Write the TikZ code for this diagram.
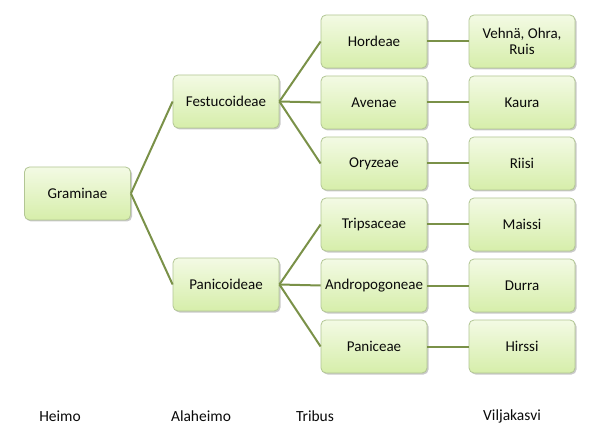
\documentclass[tikz,border=0pt]{standalone}
\usepackage{fontspec}
\setmainfont{Carlito}
\usetikzlibrary{shadows}
\definecolor{linegreen}{RGB}{122,145,72}
\definecolor{boxtop}{RGB}{243,250,228}
\definecolor{boxbot}{RGB}{214,238,170}
\definecolor{boxborder}{RGB}{178,198,148}
\definecolor{txt}{RGB}{10,10,10}
\tikzset{
  box/.style={draw=boxborder, line width=0.8pt, rounded corners=5pt,
    top color=boxtop, bottom color=boxbot,
    minimum width=106pt, minimum height=53pt, inner sep=1pt,
    align=center, text=txt, font=\fontsize{15}{16}\selectfont,
    drop shadow={shadow xshift=1.5pt, shadow yshift=-1.5pt, opacity=0.35, fill=black!60}},
  link/.style={draw=linegreen, line width=2pt},
  lab/.style={text=txt, font=\fontsize{15.5}{16}\selectfont}
}
\begin{document}
\begin{tikzpicture}[x=1pt,y=-1pt]
\useasboundingbox[fill=white] (0,0) rectangle (591,446);
\node[box] (gram) at (77.5,193.5) {Graminae};
\node[box] (fest) at (226,101.5) {Festucoideae};
\node[box] (pani) at (226,284.5) {Panicoideae};
\node[box] (hord) at (374,41.5) {Hordeae};
\node[box] (aven) at (374,102.5) {Avenae};
\node[box] (oryz) at (374,163.5) {Oryzeae};
\node[box] (trip) at (374,224.5) {Tripsaceae};
\node[box] (andr) at (374,285.5) {Andropogoneae};
\node[box] (panc) at (374,346.5) {Paniceae};
\node[box] (vehn) at (522,41.5) {Vehnä, Ohra,\\Ruis};
\node[box] (kaur) at (522,102.5) {Kaura};
\node[box] (riis) at (522,163.5) {Riisi};
\node[box] (mais) at (522,224.5) {Maissi};
\node[box] (durr) at (522,285.5) {Durra};
\node[box] (hirs) at (522,346.5) {Hirssi};
\draw[link] (gram.east) -- (fest.west);
\draw[link] (gram.east) -- (pani.west);
\draw[link] (fest.east) -- (hord.west);
\draw[link] (fest.east) -- (aven.west);
\draw[link] (fest.east) -- (oryz.west);
\draw[link] (pani.east) -- (trip.west);
\draw[link] (pani.east) -- (andr.west);
\draw[link] (pani.east) -- (panc.west);
\draw[link] (hord.east) -- (vehn.west);
\draw[link] (aven.east) -- (kaur.west);
\draw[link] (oryz.east) -- (riis.west);
\draw[link] (trip.east) -- (mais.west);
\draw[link] (andr.east) -- (durr.west);
\draw[link] (panc.east) -- (hirs.west);
\node[lab] (l1) at (60,416) {Heimo};
\node[lab] (l2) at (201,416) {Alaheimo};
\node[lab] (l3) at (315,416) {Tribus};
\node[lab] (l4) at (512,416) {Viljakasvi};
\end{tikzpicture}
\end{document}
